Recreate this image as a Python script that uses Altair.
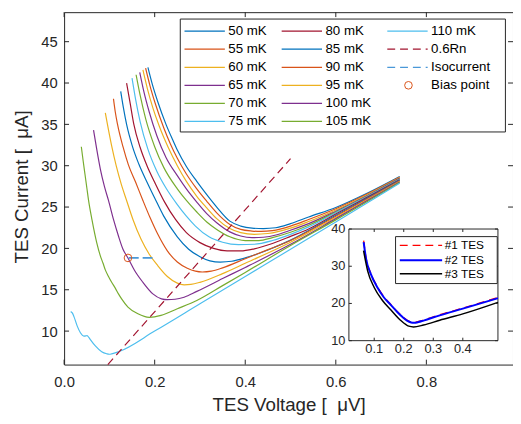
import altair as alt
import pandas as pd

# ---------------- data ----------------
temps = ["50 mK", "55 mK", "60 mK", "65 mK", "70 mK", "75 mK", "80 mK",
         "85 mK", "90 mK", "95 mK", "100 mK", "105 mK", "110 mK"]
colors = ["#0072BD", "#D95319", "#EDB120", "#7E2F8E", "#77AC30", "#4DBEEE", "#A2142F",
          "#0072BD", "#D95319", "#EDB120", "#7E2F8E", "#77AC30", "#4DBEEE"]

v50 = [0.185, 0.195, 0.207, 0.225, 0.24, 0.25, 0.27, 0.293, 0.315, 0.337, 0.366, 0.39, 0.415, 0.44, 0.467, 0.5, 0.54, 0.6, 0.67, 0.741]
i50 = [41.9, 39.8, 37.7, 35.0, 33.1, 31.9, 29.9, 28.1, 26.5, 25.0, 23.3, 22.7, 22.45, 22.4, 22.5, 23.0, 23.8, 24.95, 26.7, 28.7]
v55 = [0.18, 0.19, 0.202, 0.22, 0.235, 0.25, 0.27, 0.293, 0.315, 0.337, 0.366, 0.39, 0.415, 0.435, 0.46, 0.5, 0.54, 0.6, 0.67, 0.741]
i55 = [41.8, 39.6, 37.4, 34.6, 32.6, 30.9, 29.0, 27.2, 25.7, 24.3, 22.9, 22.3, 22.1, 22.05, 22.15, 22.7, 23.5, 24.8, 26.6, 28.63]
v60 = [0.174, 0.184, 0.196, 0.21, 0.23, 0.25, 0.27, 0.293, 0.315, 0.337, 0.366, 0.39, 0.42, 0.45, 0.5, 0.54, 0.6, 0.67, 0.741]
i60 = [41.6, 39.3, 37.0, 34.8, 32.2, 30.0, 28.1, 26.3, 24.9, 23.6, 22.4, 21.9, 21.7, 21.8, 22.45, 23.25, 24.65, 26.5, 28.57]
v65 = [0.167, 0.176, 0.188, 0.205, 0.225, 0.25, 0.27, 0.293, 0.315, 0.337, 0.366, 0.39, 0.415, 0.44, 0.47, 0.5, 0.54, 0.6, 0.67, 0.741]
i65 = [41.3, 39.0, 36.5, 33.6, 31.0, 28.8, 27.2, 25.6, 24.2, 23.1, 22.0, 21.5, 21.3, 21.35, 21.65, 22.2, 23.0, 24.5, 26.4, 28.5]
v70 = [0.159, 0.168, 0.18, 0.2, 0.22, 0.25, 0.27, 0.293, 0.315, 0.337, 0.366, 0.4, 0.43, 0.46, 0.5, 0.54, 0.6, 0.67, 0.741]
i70 = [41.0, 38.5, 35.7, 32.3, 29.8, 27.2, 25.8, 24.4, 23.2, 22.3, 21.4, 20.95, 20.95, 21.3, 21.95, 22.8, 24.4, 26.35, 28.43]
v75 = [0.15, 0.158, 0.168, 0.185, 0.205, 0.225, 0.25, 0.27, 0.29, 0.32, 0.35, 0.385, 0.42, 0.46, 0.5, 0.54, 0.6, 0.67, 0.741]
i75 = [40.6, 38.0, 35.3, 32.0, 29.3, 27.3, 25.3, 23.9, 22.7, 21.4, 20.75, 20.45, 20.5, 20.95, 21.7, 22.6, 24.3, 26.3, 28.37]
v80 = [0.138, 0.146, 0.154, 0.168, 0.183, 0.2, 0.222, 0.246, 0.27, 0.3, 0.33, 0.36, 0.39, 0.42, 0.46, 0.5, 0.54, 0.6, 0.67, 0.741]
i80 = [40.0, 37.5, 35.0, 32.2, 30.0, 28.0, 25.6, 23.5, 21.9, 20.7, 20.0, 19.7, 19.7, 19.95, 20.6, 21.45, 22.35, 24.15, 26.2, 28.3]
v85 = [0.125, 0.131, 0.138, 0.15, 0.165, 0.185, 0.2, 0.22, 0.25, 0.275, 0.3, 0.322, 0.345, 0.37, 0.4, 0.45, 0.5, 0.6, 0.67, 0.741]
i85 = [39.0, 37.0, 35.0, 32.5, 30.2, 27.8, 26.1, 23.9, 21.4, 19.9, 19.0, 18.5, 18.35, 18.45, 18.85, 19.8, 21.0, 24.0, 26.1, 28.23]
v90 = [0.109, 0.113, 0.118, 0.13, 0.142, 0.158, 0.174, 0.19, 0.207, 0.228, 0.25, 0.272, 0.29, 0.305, 0.325, 0.35, 0.4, 0.45, 0.5, 0.6, 0.67, 0.741]
i90 = [38.1, 36.5, 35.0, 32.3, 30.1, 28.0, 25.8, 23.7, 21.7, 19.7, 18.35, 17.6, 17.25, 17.15, 17.25, 17.65, 18.75, 19.85, 20.95, 23.9, 26.0, 28.17]
v95 = [0.091, 0.0957, 0.105, 0.115, 0.126, 0.138, 0.152, 0.17, 0.188, 0.207, 0.228, 0.25, 0.265, 0.28, 0.3, 0.35, 0.4, 0.5, 0.6, 0.741]
i95 = [36.4, 35.0, 32.4, 30.0, 27.8, 25.8, 23.5, 21.1, 19.3, 17.9, 16.6, 15.8, 15.6, 15.65, 15.9, 16.95, 18.2, 20.75, 23.75, 28.1]
v100 = [0.065, 0.072, 0.08, 0.089, 0.098, 0.109, 0.12, 0.13, 0.141, 0.156, 0.174, 0.196, 0.215, 0.228, 0.245, 0.265, 0.293, 0.35, 0.4, 0.5, 0.6, 0.741]
i100 = [34.3, 32.0, 29.6, 27.5, 25.8, 23.5, 21.5, 19.9, 18.85, 17.3, 15.9, 14.5, 13.9, 13.8, 13.85, 14.1, 14.8, 16.35, 17.7, 20.5, 23.6, 28.03]
v105 = [0.038, 0.042, 0.046, 0.05, 0.054, 0.0616, 0.072, 0.08, 0.086, 0.091, 0.098, 0.105, 0.113, 0.12, 0.127, 0.141, 0.163, 0.188, 0.214, 0.25, 0.293, 0.35, 0.4, 0.5, 0.6, 0.741]
i105 = [32.3, 30.6, 29.0, 27.4, 25.8, 23.45, 20.7, 19.1, 18.2, 17.4, 16.6, 15.9, 15.2, 14.5, 13.9, 12.9, 12.1, 11.67, 11.9, 12.7, 13.7, 15.5, 17.1, 20.35, 23.45, 27.97]
v110 = [0.0145, 0.018, 0.0217, 0.029, 0.036, 0.0435, 0.048, 0.0507, 0.055, 0.058, 0.069, 0.083, 0.094, 0.1, 0.105, 0.12, 0.2, 0.3, 0.4, 0.5, 0.6, 0.741]
i110 = [12.35, 12.2, 11.75, 10.6, 9.8, 9.4, 9.42, 9.45, 9.2, 8.97, 8.2, 7.5, 7.26, 7.2, 7.25, 7.5, 10.0, 13.3, 16.6, 19.9, 23.2, 27.9]

v_lists = [v50, v55, v60, v65, v70, v75, v80, v85, v90, v95, v100, v105, v110]
i_lists = [i50, i55, i60, i65, i70, i75, i80, i85, i90, i95, i100, i105, i110]

rn_v = [0.0965, 0.5]          # 0.6Rn line
rn_i = [5.95, 30.85]
iso_v = [0.143, 0.196]        # isocurrent
iso_i = [18.85, 18.85]
bias_v = [0.141]
bias_i = [18.85]

x_ticks = [0, 0.2, 0.4, 0.6, 0.8]
y_ticks = [10, 15, 20, 25, 30, 35, 40, 45]

# inset data
ins_labels = ["#1 TES", "#2 TES", "#3 TES"]
ins_colors = ["#FF0000", "#0000FF", "#000000"]
ins_v1 = [0.0643, 0.072, 0.089, 0.111, 0.133, 0.155, 0.178, 0.195, 0.211, 0.225, 0.235, 0.25, 0.267, 0.322, 0.4, 0.519]
ins_i1 = [36.9, 32.4, 28.0, 24.5, 21.8, 19.85, 17.85, 16.55, 15.55, 15.05, 14.95, 15.15, 15.55, 16.95, 18.75, 21.6]
ins_v2 = [0.0643, 0.072, 0.089, 0.111, 0.133, 0.155, 0.178, 0.195, 0.211, 0.225, 0.235, 0.25, 0.267, 0.322, 0.4, 0.519]
ins_i2 = [36.45, 32.2, 27.8, 24.3, 21.6, 19.7, 17.7, 16.4, 15.4, 14.9, 14.8, 15.0, 15.4, 16.8, 18.6, 21.4]
ins_v3 = [0.064, 0.078, 0.1, 0.128, 0.156, 0.189, 0.217, 0.233, 0.267, 0.322, 0.4, 0.519]
ins_i3 = [34.2, 28.7, 24.3, 20.8, 18.3, 15.5, 13.9, 13.7, 14.2, 15.5, 17.2, 20.3]
ins_x_ticks = [0.1, 0.2, 0.3, 0.4]
ins_y_ticks = [10, 20, 30, 40]
ins_xdom = [0.0143, 0.519]
ins_ydom = [10, 40]

# ---------------- layout / style ----------------
W, H = 456, 358
XDOM = [0, 0.9913]
YDOM = [5.95, 48.57]
INK = "#262626"
FONT = "Liberation Sans"
KX = (XDOM[1] - XDOM[0]) / W      # data units per pixel
KY = (YDOM[1] - YDOM[0]) / H

# inset placement inside the plot area (pixels)
IX0, IX1 = 289.3, 440.7
IY0, IY1 = 333.7, 220.3


def px2v(e):
    return f"{XDOM[0]} + ({e}) * {KX}"


def py2i(e):
    return f"{YDOM[1]} - ({e}) * {KY}"


def insx(e):
    return px2v(f"{IX0} + (({e}) - {ins_xdom[0]}) * {(IX1 - IX0) / (ins_xdom[1] - ins_xdom[0])}")


def insy(e):
    return py2i(f"{IY0} - (({e}) - {ins_ydom[0]}) * {(IY0 - IY1) / (ins_ydom[1] - ins_ydom[0])}")


xs = alt.Scale(domain=XDOM, nice=False, zero=False)
ys = alt.Scale(domain=YDOM, nice=False, zero=False)
cscale = alt.Scale(domain=temps, range=colors)
X = alt.X("V:Q")
Y = alt.Y("I:Q")

rows = []
for t, vs, cs in zip(temps, v_lists, i_lists):
    for v, c in zip(vs, cs):
        rows.append({"T": t, "V": v, "I": c})
curves = pd.DataFrame(rows)

NB = "\u00a0"
curve_layer = alt.Chart(curves).mark_line(strokeWidth=1.2, interpolate="monotone", clip=True).encode(
    x=alt.X("V:Q", scale=xs, axis=alt.Axis(
        values=x_ticks, ticks=False, domain=False, grid=False, labelFontSize=15,
        labelPadding=10, labelFlush=False, labelOverlap=False, labelColor=INK, orient="bottom",
        title=f"TES Voltage [{NB}{NB}μV]", titleFontSize=19, titleFontWeight="normal", titleColor=INK,
        titleX=228, titleY=47, titleBaseline="alphabetic", titleAlign="center")),
    y=alt.Y("I:Q", scale=ys, axis=alt.Axis(
        values=y_ticks, ticks=False, domain=False, grid=False, labelFontSize=15,
        labelPadding=7, labelColor=INK, labelOverlap=False, orient="left",
        title=f"TES Current [{NB}{NB}μA]", titleFontSize=19, titleFontWeight="normal", titleColor=INK,
        titleX=-36.7, titleY=177, titleAngle=270, titleBaseline="alphabetic", titleAlign="center")),
    color=alt.Color("T:N", scale=cscale, legend=None),
)

rn_layer = alt.Chart(pd.DataFrame({"V": rn_v, "I": rn_i})).mark_line(
    color="#A2142F", strokeWidth=1.2, strokeDash=[8, 5]).encode(x=X, y=Y)
iso_layer = alt.Chart(pd.DataFrame({"V": iso_v, "I": iso_i})).mark_line(
    color="#4A98D8", strokeWidth=1.8, strokeDash=[10, 4]).encode(x=X, y=Y)
bias_layer = alt.Chart(pd.DataFrame({"V": bias_v, "I": bias_i})).mark_point(
    shape="circle", filled=False, size=60, color="#D95319", strokeWidth=1, opacity=1).encode(x=X, y=Y)

xt = pd.DataFrame({"V": x_ticks})
yt = pd.DataFrame({"I": y_ticks})
tick_layers = [
    alt.Chart(xt).mark_rule(color=INK, strokeWidth=1).encode(x=X, y=alt.value(H), y2=alt.value(H - 5)),
    alt.Chart(xt).mark_rule(color=INK, strokeWidth=1).encode(x=X, y=alt.value(0), y2=alt.value(5)),
    alt.Chart(yt).mark_rule(color=INK, strokeWidth=1).encode(y=Y, x=alt.value(0), x2=alt.value(5)),
    alt.Chart(yt).mark_rule(color=INK, strokeWidth=1).encode(y=Y, x=alt.value(W), x2=alt.value(W - 5)),
]

# ---------------- main legend (pixel layout, converted to data units) ----------------
col_x = [122.3, 221.0, 328.3]
row_y = [19.3, 37.6, 56.0, 74.3, 92.6, 111.0]
SEG = 41
solid_rows, text_rows = [], []
for k, t in enumerate(temps):
    col, row = divmod(k, 6)
    solid_rows.append({"T": t, "px0": col_x[col], "px1": col_x[col] + SEG, "py": row_y[row]})
    text_rows.append({"px": col_x[col] + SEG + 3.5, "py": row_y[row], "lab": t})
extra_labels = ["0.6Rn", "Isocurrent", "Bias point"]
for j, lab in enumerate(extra_labels):
    text_rows.append({"px": col_x[2] + SEG + 3.5, "py": row_y[j + 1], "lab": lab})


def seg_chart(df):
    return alt.Chart(df).transform_calculate(
        V=px2v("datum.px0"), V2=px2v("datum.px1"), I=py2i("datum.py"))


def pt_chart(df):
    return alt.Chart(df).transform_calculate(V=px2v("datum.px"), I=py2i("datum.py"))


box_df = pd.DataFrame([{"px0": 118.0, "px1": 448.3, "py0": 7.0, "py1": 121.7}])
leg_box = alt.Chart(box_df).transform_calculate(
    V=px2v("datum.px0"), V2=px2v("datum.px1"), I=py2i("datum.py0"), I2=py2i("datum.py1")
).mark_rect(fill="white", stroke=INK, strokeWidth=1).encode(x=X, x2="V2:Q", y=Y, y2="I2:Q")
leg_solid = seg_chart(pd.DataFrame(solid_rows)).mark_rule(strokeWidth=1.2).encode(
    x=X, x2="V2:Q", y=Y, color=alt.Color("T:N", scale=cscale, legend=None))
leg_rn = seg_chart(pd.DataFrame([{"px0": col_x[2], "px1": col_x[2] + SEG, "py": row_y[1]}])).mark_rule(
    strokeWidth=1.2, strokeDash=[8, 5], color="#A2142F").encode(x=X, x2="V2:Q", y=Y)
leg_iso = seg_chart(pd.DataFrame([{"px0": col_x[2], "px1": col_x[2] + SEG, "py": row_y[2]}])).mark_rule(
    strokeWidth=1.2, strokeDash=[8, 5], color="#4A98D8").encode(x=X, x2="V2:Q", y=Y)
leg_bias = pt_chart(pd.DataFrame([{"px": col_x[2] + SEG / 2 + 1, "py": row_y[3]}])).mark_point(
    shape="circle", filled=False, size=60, color="#D95319", strokeWidth=1, opacity=1).encode(x=X, y=Y)
leg_text = pt_chart(pd.DataFrame(text_rows)).mark_text(
    align="left", baseline="middle", fontSize=13.5, color="#000000", font=FONT).encode(
    x=X, y=Y, text="lab:N")

# ---------------- inset (own ranges, mapped into the plot area) ----------------
frame_df = pd.DataFrame([{"v0": ins_xdom[0], "v1": ins_xdom[1], "i0": ins_ydom[0], "i1": ins_ydom[1]}])
ins_frame = alt.Chart(frame_df).transform_calculate(
    V=insx("datum.v0"), V2=insx("datum.v1"), I=insy("datum.i0"), I2=insy("datum.i1")
).mark_rect(fill="white", stroke=INK, strokeWidth=1).encode(x=X, x2="V2:Q", y=Y, y2="I2:Q")


def ins_line(vs, cs, color, width, dash=None):
    kw = dict(color=color, strokeWidth=width, interpolate="monotone")
    if dash:
        kw["strokeDash"] = dash
    return alt.Chart(pd.DataFrame({"v": vs, "i": cs})).transform_calculate(
        V=insx("datum.v"), I=insy("datum.i")).mark_line(**kw).encode(x=X, y=Y)


ins_l1 = ins_line(ins_v1, ins_i1, ins_colors[0], 1.3, [8, 5])
ins_l2 = ins_line(ins_v2, ins_i2, ins_colors[1], 2.0)
ins_l3 = ins_line(ins_v3, ins_i3, ins_colors[2], 1.5)

ixt = pd.DataFrame({"v": ins_x_ticks, "lab": [str(v) for v in ins_x_ticks]})
iyt = pd.DataFrame({"i": ins_y_ticks, "lab": [str(v) for v in ins_y_ticks]})
ins_tick_b = alt.Chart(ixt).transform_calculate(
    V=insx("datum.v"), I=insy(str(ins_ydom[0])), I2=f"({insy(str(ins_ydom[0]))}) + {3 * KY}"
).mark_rule(color=INK).encode(x=X, y=Y, y2="I2:Q")
ins_tick_t = alt.Chart(ixt).transform_calculate(
    V=insx("datum.v"), I=insy(str(ins_ydom[1])), I2=f"({insy(str(ins_ydom[1]))}) - {3 * KY}"
).mark_rule(color=INK).encode(x=X, y=Y, y2="I2:Q")
ins_tick_l = alt.Chart(iyt).transform_calculate(
    I=insy("datum.i"), V=insx(str(ins_xdom[0])), V2=f"({insx(str(ins_xdom[0]))}) + {3 * KX}"
).mark_rule(color=INK).encode(x=X, x2="V2:Q", y=Y)
ins_tick_r = alt.Chart(iyt).transform_calculate(
    I=insy("datum.i"), V=insx(str(ins_xdom[1])), V2=f"({insx(str(ins_xdom[1]))}) - {3 * KX}"
).mark_rule(color=INK).encode(x=X, x2="V2:Q", y=Y)
ins_xlab = alt.Chart(ixt).transform_calculate(
    V=insx("datum.v"), I=insy(str(ins_ydom[0]))
).mark_text(align="center", baseline="top", dy=2.3, fontSize=13, color=INK, font=FONT).encode(
    x=X, y=Y, text="lab:N")
ins_ylab = alt.Chart(iyt).transform_calculate(
    I=insy("datum.i"), V=insx(str(ins_xdom[0]))
).mark_text(align="right", baseline="middle", dx=-3.6, fontSize=13, color=INK, font=FONT).encode(
    x=X, y=Y, text="lab:N")

# inset legend (pixel layout)
il_y = [237.0, 252.0, 265.7]
il_box = alt.Chart(pd.DataFrame([{"px0": 336.7, "px1": 440.0, "py0": 228.0, "py1": 275.7}])).transform_calculate(
    V=px2v("datum.px0"), V2=px2v("datum.px1"), I=py2i("datum.py0"), I2=py2i("datum.py1")
).mark_rect(fill="white", stroke=INK, strokeWidth=1).encode(x=X, x2="V2:Q", y=Y, y2="I2:Q")
il_red = seg_chart(pd.DataFrame([{"px0": 341.0, "px1": 384.0, "py": il_y[0]}])).mark_rule(
    color=ins_colors[0], strokeWidth=1.3, strokeDash=[8, 5]).encode(x=X, x2="V2:Q", y=Y)
il_blue = seg_chart(pd.DataFrame([{"px0": 341.0, "px1": 384.0, "py": il_y[1]}])).mark_rule(
    color=ins_colors[1], strokeWidth=2.0).encode(x=X, x2="V2:Q", y=Y)
il_black = seg_chart(pd.DataFrame([{"px0": 341.0, "px1": 384.0, "py": il_y[2]}])).mark_rule(
    color=ins_colors[2], strokeWidth=1.5).encode(x=X, x2="V2:Q", y=Y)
il_text = pt_chart(pd.DataFrame({"px": [386.7] * 3, "py": il_y, "lab": ins_labels})).mark_text(
    align="left", baseline="middle", fontSize=12, color="#000000", font=FONT).encode(
    x=X, y=Y, text="lab:N")

chart = alt.layer(
    curve_layer, rn_layer, iso_layer, bias_layer, *tick_layers,
    leg_box, leg_solid, leg_rn, leg_iso, leg_bias, leg_text,
    ins_frame, ins_l1, ins_l2, ins_l3, ins_tick_b, ins_tick_t, ins_tick_l, ins_tick_r,
    ins_xlab, ins_ylab,
    il_box, il_red, il_blue, il_black, il_text,
).properties(
    width=W, height=H,
    autosize=alt.AutoSizeParams(type="none"),
    padding={"left": 57, "top": 1, "right": 0, "bottom": 49},
    background="white",
).configure(
    font=FONT
).configure_view(
    stroke=INK, strokeWidth=1
)

chart.save("out.html", embed_options={"renderer": "svg", "actions": False})
